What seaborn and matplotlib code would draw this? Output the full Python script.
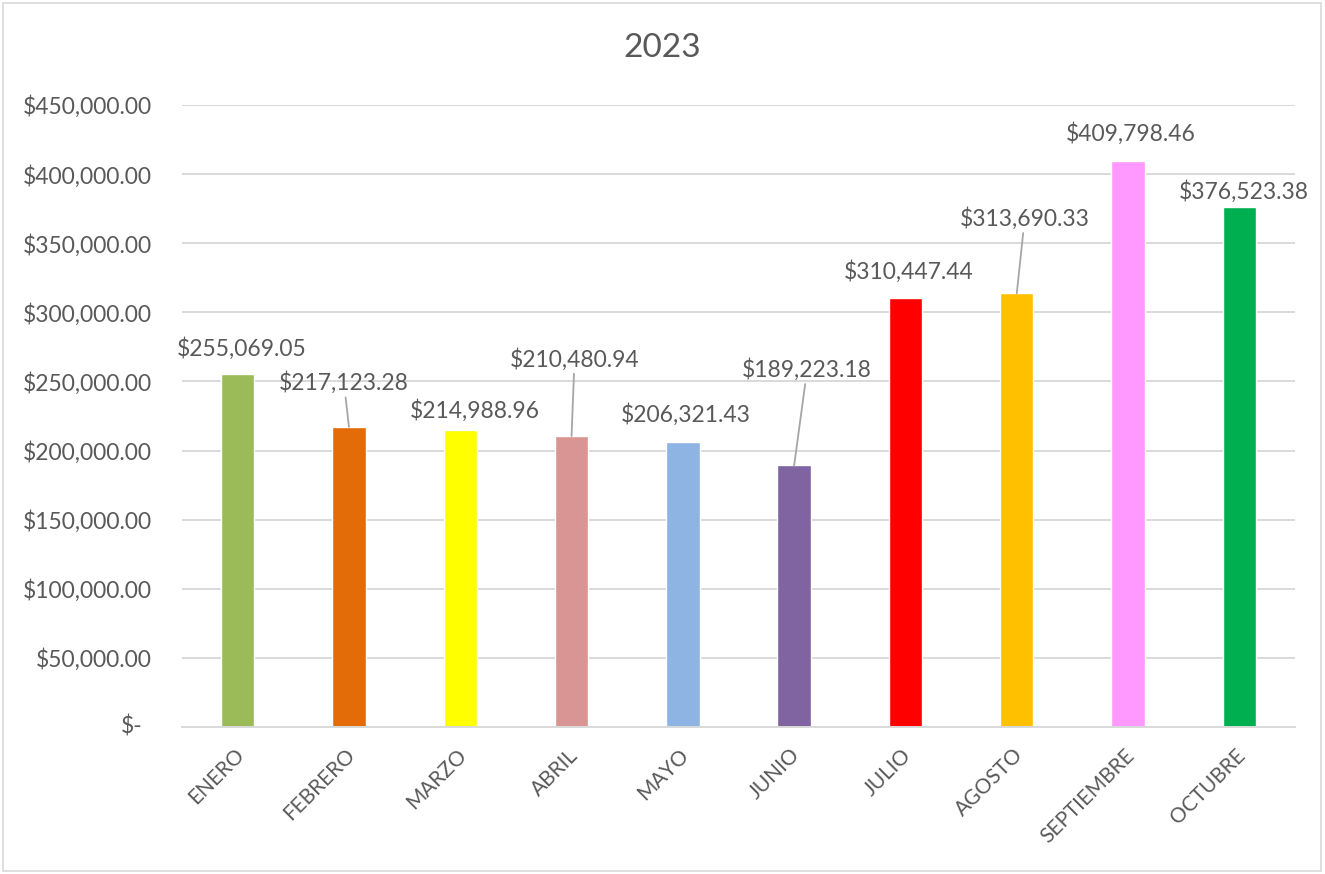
import matplotlib
matplotlib.use("Agg")
import matplotlib.pyplot as plt
import matplotlib.transforms as mtransforms
from matplotlib.patches import Rectangle
from matplotlib.ticker import FuncFormatter, MultipleLocator
import pandas as pd
import seaborn as sns

# ---------------------------------------------------------------------------
# Data
# ---------------------------------------------------------------------------
meses = ["ENERO", "FEBRERO", "MARZO", "ABRIL", "MAYO",
         "JUNIO", "JULIO", "AGOSTO", "SEPTIEMBRE", "OCTUBRE"]
ventas = [255069.05, 217123.28, 214988.96, 210480.94, 206321.43,
          189223.18, 310447.44, 313690.33, 409798.46, 376523.38]
colores = ["#9BBB59", "#E36C09", "#FFFF00", "#D99594", "#8DB4E2",
           "#8064A2", "#FF0000", "#FFC000", "#FF99FF", "#00B050"]
titulo = "2023"

# label placement: pixel offset from bar top, and whether a leader line is drawn
label_offsets = [(4, 26), (-5, 44), (15, 19), (3, 77), (3, 27),
                 (13, 96), (3, 26), (8, 75), (3, 27), (4, 15)]
leader = [False, True, False, True, False, True, False, True, False, False]

TXT = "#595959"
GRID = "#d9d9d9"
FS = 16.5

sns.set_style("white")
plt.rcParams["font.family"] = ["Lato", "DejaVu Sans"]

df = pd.DataFrame({"mes": meses, "venta": ventas})

fig = plt.figure(figsize=(13.25, 8.74), dpi=100)
ax = fig.add_axes([182 / 1325, 147 / 874, 1113 / 1325, 622 / 874])

sns.barplot(data=df, x="mes", y="venta", hue="mes",
            palette=dict(zip(meses, colores)), width=0.3,
            saturation=1, legend=False, ax=ax)

ax.set_xlim(-0.5, len(meses) - 0.5)
ax.set_ylim(0, 450000)
ax.yaxis.set_major_locator(MultipleLocator(50000))
ax.yaxis.set_major_formatter(FuncFormatter(lambda v, p: "" if v == 0 else f"${v:,.2f}"))
ax.set_xlabel("")
ax.set_ylabel("")

ax.set_axisbelow(True)
ax.grid(axis="y", color=GRID, lw=1.4)
ax.grid(axis="x", visible=False)
for s in ["left", "top", "right"]:
    ax.spines[s].set_visible(False)
ax.spines["bottom"].set_color(GRID)
ax.spines["bottom"].set_linewidth(1.4)

ax.tick_params(axis="y", length=0, pad=21.5, labelsize=FS, labelcolor=TXT)
ax.tick_params(axis="x", length=0, pad=18, labelsize=15, labelcolor=TXT)
ax.set_xticks(range(len(meses)))
ax.set_xticklabels(meses, rotation=45, ha="right", va="center",
                   rotation_mode="anchor")
shift = mtransforms.ScaledTranslation(3 / 100, 0, fig.dpi_scale_trans)
for lbl in ax.get_xticklabels():
    lbl.set_transform(lbl.get_transform() + shift)

# accounting-style zero label
ax.annotate("$-", xy=(0, 0), xycoords=ax.get_yaxis_transform(),
            xytext=(-40, 0), textcoords="offset pixels",
            ha="right", va="center", fontsize=FS, color=TXT)

# data labels
for i, (v, (dx, dy), ln) in enumerate(zip(ventas, label_offsets, leader)):
    arrow = dict(arrowstyle="-", color="#a6a6a6", lw=1.3,
                 shrinkA=0, shrinkB=0) if ln else None
    ax.annotate(f"${v:,.2f}", xy=(i, v), xytext=(dx, dy),
                textcoords="offset pixels", ha="center", va="center",
                fontsize=FS, color=TXT, arrowprops=arrow)

fig.text(0.5, 1 - 48 / 874, titulo, ha="center", va="center",
         fontsize=24, color=TXT)

fig.add_artist(Rectangle((0.002, 0.003), 0.995, 0.993, transform=fig.transFigure,
                         fill=False, edgecolor=GRID, lw=1.2))

fig.savefig("out.png", dpi=100)
